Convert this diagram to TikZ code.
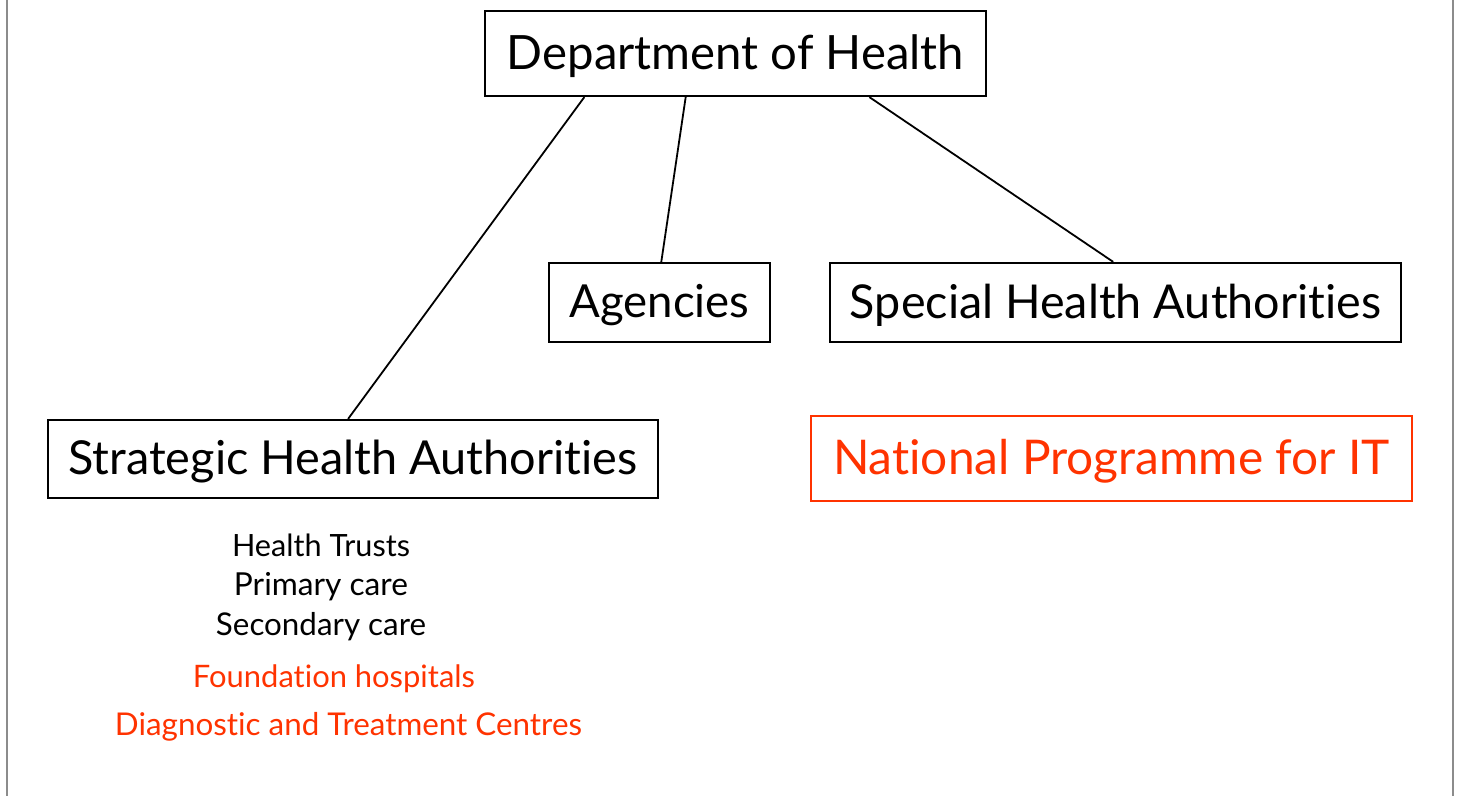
\documentclass[tikz,border=0pt]{standalone}
\usepackage{fontspec}
\setmainfont[Ligatures={NoCommon,NoContextual},RawFeature={-liga;-clig;-dlig;-calt}]{Lato}
\usetikzlibrary{calc}
\definecolor{npred}{RGB}{255,51,0}
\definecolor{edgegray}{RGB}{140,140,140}
\newcommand{\fitw}[2]{\resizebox{#1}{!}{#2}}
\newcommand{\boxtext}[2]{\raisebox{-1.5pt}[\height][\depth]{\resizebox{#1}{!}{#2}}}
\begin{document}
\begin{tikzpicture}[x=0.5pt,y=-0.5pt,
  orgbox/.style={draw, line width=1.1pt, rectangle, inner sep=0pt, anchor=center},
  link/.style={line width=0.9pt},
  note/.style={inner sep=0pt, anchor=base},
  frameline/.style={edgegray, line width=1pt}]
\useasboundingbox (0,0) rectangle (1459,796);
\fill[white] (0,0) rectangle (1459,796);
\draw[frameline] (7,0) -- (7,796);
\draw[frameline] (1453,0) -- (1453,796);

\node[orgbox, minimum width=250.5pt, minimum height=42.5pt] (doh) at (735.5,53.5) {\boxtext{228.5pt}{Department of Health}};
\node[orgbox, minimum width=110.5pt, minimum height=39.5pt] (agen) at (659.5,302.5) {\boxtext{90pt}{Agencies}};
\node[orgbox, minimum width=285.5pt, minimum height=39.5pt] (spha) at (1115.5,302.5) {\boxtext{265.5pt}{Special Health Authorities}};
\node[orgbox, minimum width=305pt, minimum height=39pt] (stha) at (353,459) {\boxtext{284.5pt}{Strategic Health Authorities}};
\node[orgbox, draw=npred, text=npred, minimum width=300.5pt, minimum height=42.5pt] (npit) at (1111.5,458.5) {\boxtext{278.5pt}{National Programme for IT}};

\draw[link] ($(doh.south west)!0.1996!(doh.south east)$) -- ($(stha.north west)!0.492!(stha.north east)$);
\draw[link] ($(doh.south west)!0.401!(doh.south east)$) -- ($(agen.north west)!0.508!(agen.north east)$);
\draw[link] ($(doh.south west)!0.766!(doh.south east)$) -- ($(spha.north west)!0.496!(spha.north east)$);

\node[note] (ht) at (321,556) {\fitw{89pt}{Health Trusts}};
\node[note] (pc) at (321,595) {\fitw{87pt}{Primary care}};
\node[note] (sc) at (321,635) {\fitw{105pt}{Secondary care}};
\node[note, text=npred] (fh) at (334,687) {\fitw{141pt}{Foundation hospitals}};
\node[note, text=npred] (dtc) at (348.5,735) {\fitw{233.5pt}{Diagnostic and Treatment Centres}};
\end{tikzpicture}
\end{document}
